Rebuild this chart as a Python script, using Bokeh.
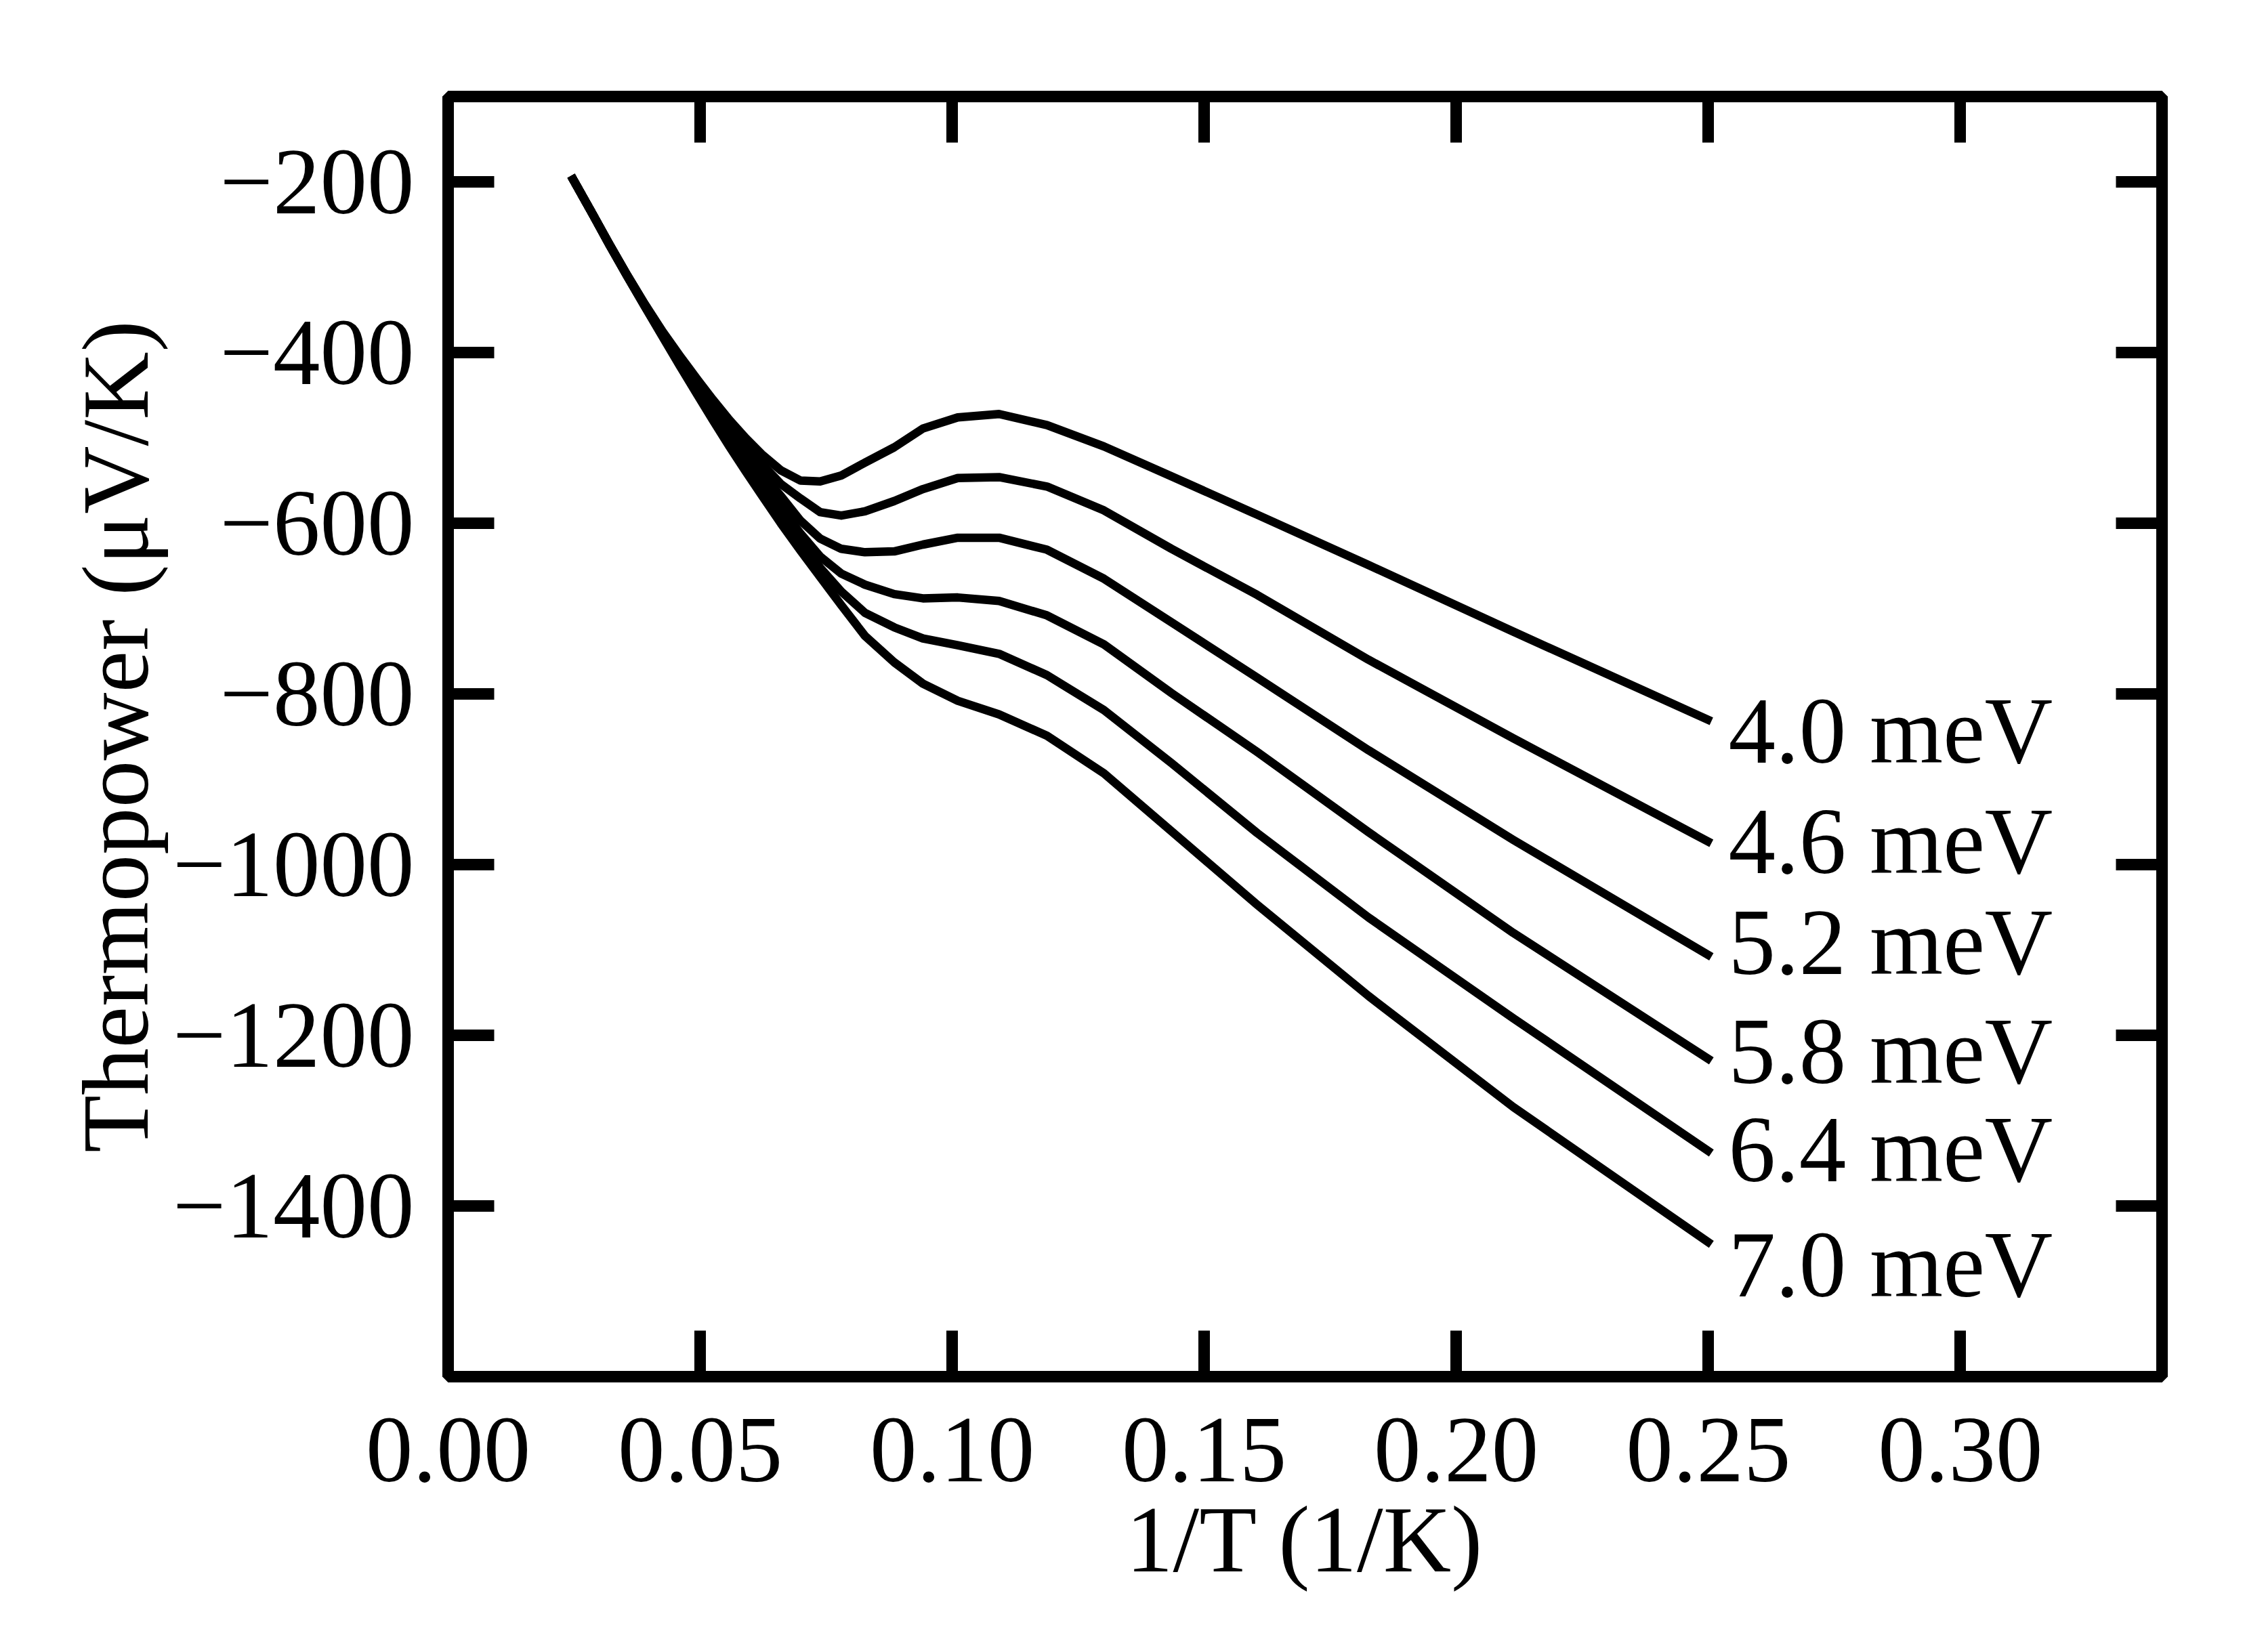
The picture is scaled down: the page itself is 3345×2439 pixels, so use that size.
from bokeh.plotting import figure
from bokeh.models import Range1d, LinearAxis, FixedTicker, ColumnDataSource
from bokeh.embed import file_html
from bokeh.resources import INLINE
from bokeh.core.properties import value

# ---------------- data ----------------
inv_T = [0.0244, 0.0285, 0.0320, 0.0355, 0.0390, 0.0425, 0.0460, 0.0495, 0.0525,
         0.0558, 0.0590, 0.0622, 0.0660, 0.0699, 0.0738, 0.0780, 0.0827, 0.0885,
         0.0942, 0.1011, 0.1093, 0.1188, 0.1301, 0.1435, 0.1605, 0.1826, 0.2113, 0.2506]

S_4_0 = [-193, -236, -273, -309, -343, -375, -404, -432, -455, -479, -500, -519, -538, -550,
         -551, -544, -529, -511, -489, -476, -472, -485, -510, -545, -590, -649, -727, -832]
S_4_6 = [-193, -236, -273, -309, -343.5, -376, -406, -435, -459, -485, -508, -530, -554, -571,
         -587, -591, -586, -574, -560, -547, -546, -557, -585, -630, -684, -760, -852, -975]
S_5_2 = [-193, -236, -273.5, -309.5, -344, -377, -408, -438, -464, -491, -516, -541, -568, -597,
         -618, -630, -634, -633, -625, -617, -617, -631, -665, -716, -781, -866, -971, -1108]
S_5_8 = [-193, -236, -273.5, -310, -345, -378.5, -410.5, -442, -469, -498, -525, -552, -581, -612,
         -639, -659, -672, -683, -688, -687, -691, -708, -742, -799, -868, -962, -1080, -1230]
S_6_4 = [-193, -236, -274, -310, -345.5, -380, -413, -446, -474, -505, -533, -560, -591, -622,
         -652, -680, -705, -722, -735, -743, -753, -778, -819, -881, -963, -1062, -1180, -1338]
S_7_0 = [-193, -236, -274, -310.5, -346, -381, -416, -450, -479, -510, -539, -567, -600, -632,
         -663, -696, -732, -763, -788, -808, -824, -849, -893, -961, -1047, -1154, -1284, -1445]

series = [S_4_0, S_4_6, S_5_2, S_5_8, S_6_4, S_7_0]
series_names = ["4.0 meV", "4.6 meV", "5.2 meV", "5.8 meV", "6.4 meV", "7.0 meV"]

x_ticks = [0.0, 0.05, 0.10, 0.15, 0.20, 0.25, 0.30]
x_tick_labels = ["0.00", "0.05", "0.10", "0.15", "0.20", "0.25", "0.30"]
y_ticks = [-1400, -1200, -1000, -800, -600, -400, -200]
y_tick_labels = ["\u22121400", "\u22121200", "\u22121000", "\u2212800", "\u2212600", "\u2212400", "\u2212200"]

x_title = "1/T (1/K)"
y_title = "Thermopower (\u03bcV/K)"

# ---------------- layout / style ----------------
FONT = "Liberation Serif"
FS = "139px"
W, H = 3329, 2423

# label placement (annotation positions, not data)
label_y = [-843, -973, -1091, -1219, -1334, -1469]
label_dx = 0.0034

p = figure(width=W, height=H, output_backend="svg", toolbar_location=None,
           x_range=Range1d(0, 0.34), y_range=Range1d(-1600, -100),
           min_border_left=661, min_border_right=138,
           min_border_top=142, min_border_bottom=391)
p.grid.visible = False
p.outline_line_color = "black"
p.outline_line_width = 17
p.background_fill_color = "white"
p.border_fill_color = "white"

bottom_ax = p.below[0]
left_ax = p.left[0]
top_ax = LinearAxis()
right_ax = LinearAxis()
p.add_layout(top_ax, "above")
p.add_layout(right_ax, "right")


def style_axis(ax, ticks, labels, show):
    ax.ticker = FixedTicker(ticks=ticks)
    ax.major_tick_in = 68
    ax.major_tick_out = 0
    ax.major_tick_line_width = 17
    ax.major_tick_line_color = "black"
    ax.minor_tick_line_color = None
    ax.axis_line_width = 17
    ax.axis_line_color = "black"
    if show:
        ax.major_label_overrides = {t: l for t, l in zip(ticks, labels)}
    else:
        ax.major_label_overrides = {t: "" for t in ticks}
    ax.major_label_text_font = FONT
    ax.major_label_text_font_size = FS
    ax.major_label_text_color = "black"


style_axis(bottom_ax, x_ticks, x_tick_labels, True)
style_axis(top_ax, x_ticks, x_tick_labels, False)
style_axis(left_ax, y_ticks, y_tick_labels, True)
style_axis(right_ax, y_ticks, y_tick_labels, False)

bottom_ax.major_label_standoff = 62
left_ax.major_label_standoff = 50

for ax, title, standoff in [(left_ax, y_title, 4), (bottom_ax, x_title, 6)]:
    ax.axis_label = title
    ax.axis_label_text_font = FONT
    ax.axis_label_text_font_size = FS
    ax.axis_label_text_font_style = "normal"
    ax.axis_label_text_color = "black"
    ax.axis_label_standoff = standoff

# curves
for ys in series:
    p.line(inv_T, ys, line_color="black", line_width=12.5,
           line_join="round", line_cap="butt")

# curve labels
end_x = inv_T[-1]
src = ColumnDataSource(dict(x=[end_x + label_dx] * len(series_names),
                            y=label_y, t=series_names))
p.text(x="x", y="y", text="t", source=src, text_font=value(FONT),
       text_font_size="139px", text_color="black",
       text_align="left", text_baseline="alphabetic")

open("out.html", "w").write(file_html(p, INLINE))
